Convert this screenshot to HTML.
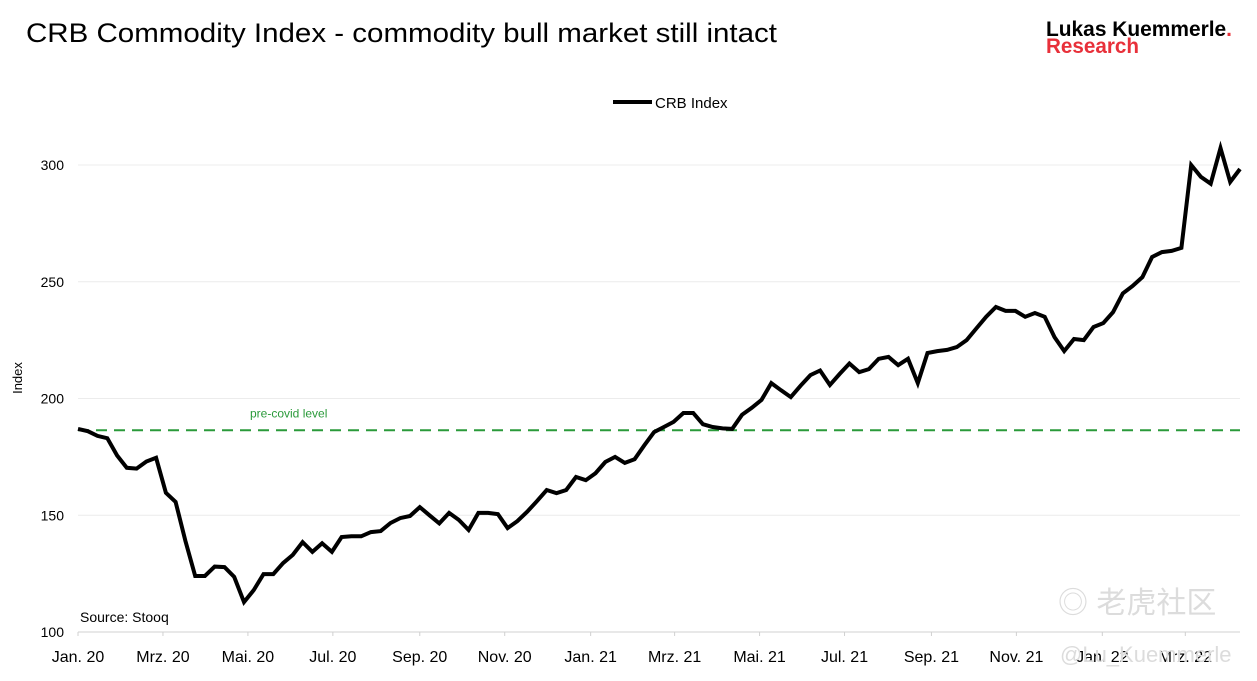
<!DOCTYPE html>
<html><head><meta charset="utf-8"><style>
body{margin:0;background:#fff;}
svg text{font-family:"Liberation Sans","Noto Sans CJK SC",sans-serif;}
</style></head><body>
<svg width="1257" height="676" viewBox="0 0 1257 676" xmlns="http://www.w3.org/2000/svg">
<rect width="1257" height="676" fill="#fff"/>
<text x="26" y="42" font-size="27" fill="#000" textLength="751" lengthAdjust="spacingAndGlyphs">CRB Commodity Index - commodity bull market still intact</text>
<text x="1046" y="36" font-size="21" font-weight="bold" fill="#000" textLength="186" lengthAdjust="spacingAndGlyphs">Lukas Kuemmerle<tspan fill="#e8303a">.</tspan></text>
<text x="1046" y="53" font-size="21" font-weight="bold" fill="#e8303a" textLength="93" lengthAdjust="spacingAndGlyphs">Research</text>
<g>
<line x1="613" y1="102" x2="652" y2="102" stroke="#000" stroke-width="4"/>
<text x="655" y="108" font-size="15" fill="#000">CRB Index</text>
</g>
<text transform="translate(22,378) rotate(-90)" text-anchor="middle" font-size="13" fill="#000">Index</text>
<g id="grid"></g>
<g id="xaxis"></g>
<g id="yaxis"></g>
<text x="1058" y="613" font-size="30" fill="#dcdcdc">◎ 老虎社区</text>
<text x="1060" y="662" font-size="22" fill="#dcdcdc">@Lu_Kuemmerle</text>
<g id="ref"></g>
<g id="series"></g>
<text x="80" y="622" font-size="14" fill="#000">Source: Stooq</text>
</svg>
<script>
const values=[187,186,184,183,175.6,170.3,170,173,174.6,159.6,155.7,139,124,124,128,127.8,123.6,112.8,118,124.8,124.8,129.5,133,138.5,134.3,138,134.3,140.7,141,141,142.8,143.2,146.7,148.8,149.7,
153.5,150,146.5,151,148,143.7,151,151,150.5,144.5,147.5,151.5,156,160.8,159.5,160.8,166.4,165,168,172.8,175,172.4,174,180,185.6,187.8,190,193.8,193.8,189,187.8,187.2,187,193,196,199.4,206.6,203.5,200.6,205.5,210,212,205.8,210.5,215,211.3,212.6,217,217.8,214.3,217,206.6,219.5,220.3,220.8,222,225,230,235,239.2,237.5,237.5,235,236.6,235,226.3,220.3,225.5,225,230.6,232.3,237,245,248.2,252,260.6,262.7,263.2,264.5,300,294.9,292,307.3,292.7,298.3];
const monthLabels=["Jan. 20","Mrz. 20","Mai. 20","Jul. 20","Sep. 20","Nov. 20","Jan. 21","Mrz. 21","Mai. 21","Jul. 21","Sep. 21","Nov. 21","Jan. 22","Mrz. 22"];
const monthIndex=[0,8.7,17.4,26.1,35,43.7,52.5,61.1,69.8,78.5,87.4,96.1,104.9,113.4];
const yTicks=[100,150,200,250,300];
const preCovid=[186.4];
const NS="http://www.w3.org/2000/svg";
const x0=78,x1=1240,yBase=632,yPer=(632-165)/200;
const xs=i=>x0+i*(x1-x0)/(values.length-1);
const ys=v=>yBase-(v-100)*yPer;
function mk(tag,attrs,parent){const e=document.createElementNS(NS,tag);for(const k in attrs)e.setAttribute(k,attrs[k]);document.getElementById(parent).appendChild(e);return e;}
yTicks.forEach(t=>{
 if(t>100){const g=mk('line',{x1:x0,x2:x1,y1:ys(t),y2:ys(t),stroke:'#ececec','stroke-width':1},'grid');
 
 }
 const l=mk('text',{x:64,y:ys(t)+5,'text-anchor':'end','font-size':14,fill:'#000'},'yaxis');
 l.textContent=t;
 
 
});
const ax=mk('line',{x1:x0,x2:x1,y1:yBase,y2:yBase,stroke:'#d0d0d0','stroke-width':1},'xaxis');


monthLabels.forEach((m,k)=>{
 const x=xs(monthIndex[k]);
 const tk=mk('line',{x1:x,x2:x,y1:yBase,y2:yBase+4,stroke:'#d0d0d0'},'xaxis');
 
 
 const t=mk('text',{x:x,y:yBase+30,'text-anchor':'middle','font-size':16,fill:'#000'},'xaxis');
 t.textContent=m;
 
 
});
const rl=mk('line',{x1:x0,x2:x1,y1:ys(preCovid[0]),y2:ys(preCovid[0]),stroke:'#2a9a3a','stroke-width':2,'stroke-dasharray':'11,7'},'ref');


const rt=mk('text',{x:250,y:ys(preCovid[0])-13,'font-size':12,fill:'#2a9a3a'},'ref');
rt.textContent='pre-covid level';


const p=mk('path',{d:values.map((v,i)=>(i?'L':'M')+xs(i).toFixed(1)+','+ys(v).toFixed(1)).join(''),fill:'none',stroke:'#000','stroke-width':4,'stroke-linejoin':'miter'},'series');


</script>
</body></html>
